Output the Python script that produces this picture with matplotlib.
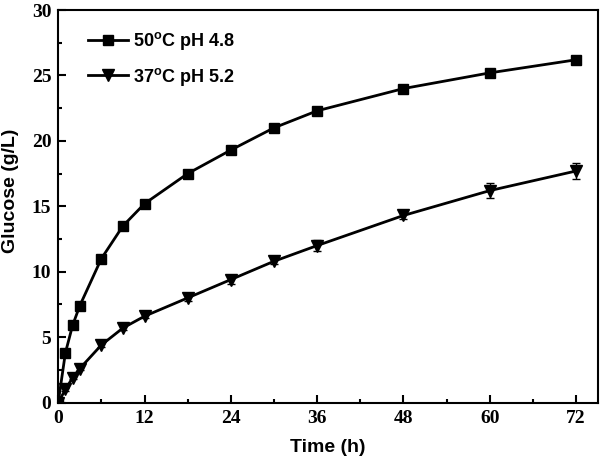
import numpy as np
import matplotlib.pyplot as plt
from matplotlib.ticker import MultipleLocator

# Data
t = [0, 1, 2, 3, 6, 9, 12, 18, 24, 30, 36, 48, 60, 72]
glc50 = [0, 3.8, 5.9, 7.4, 11.0, 13.5, 15.2, 17.5, 19.3, 21.0, 22.3, 24.0, 25.2, 26.2]
err50 = [0, 0.05, 0.05, 0.05, 0.1, 0.1, 0.1, 0.1, 0.1, 0.1, 0.1, 0.1, 0.1, 0.1]
glc37 = [0, 1.0, 1.9, 2.6, 4.4, 5.7, 6.6, 8.0, 9.4, 10.8, 12.0, 14.3, 16.2, 17.7]
err37 = [0, 0.1, 0.1, 0.1, 0.15, 0.15, 0.15, 0.2, 0.35, 0.2, 0.4, 0.3, 0.55, 0.6]

fig = plt.figure(figsize=(6, 4.58), dpi=100)
ax = fig.add_axes([0.097, 0.121, 0.899, 0.857])

ax.errorbar(t, glc50, yerr=err50, fmt="none", ecolor="k", capsize=3, elinewidth=1)
ax.errorbar(t, glc37, yerr=err37, fmt="none", ecolor="k", capsize=3, elinewidth=1)
ax.plot(t, glc50, color="k", marker="s", markersize=7, linewidth=2,
        label="50$^\\mathregular{o}$C pH 4.8")
ax.plot(t, glc37, color="k", marker="v", markersize=8, linewidth=2,
        label="37$^\\mathregular{o}$C pH 5.2")

ax.set_xlim(0, 75)
ax.set_ylim(0, 30)
ax.xaxis.set_major_locator(MultipleLocator(12))
ax.xaxis.set_minor_locator(MultipleLocator(6))
ax.yaxis.set_major_locator(MultipleLocator(5))
ax.yaxis.set_minor_locator(MultipleLocator(2.5))
ax.tick_params(which="both", direction="in", width=1.5)
ax.tick_params(which="major", length=6, pad=5)
ax.tick_params(which="minor", length=3)
for s in ax.spines.values():
    s.set_linewidth(1.5)
for lab in ax.get_xticklabels() + ax.get_yticklabels():
    lab.set_fontfamily("Liberation Serif")
    lab.set_fontweight("bold")
    lab.set_fontsize(14)

ax.set_xlabel("Time (h)", fontfamily="Liberation Sans", fontweight="bold", fontsize=14, labelpad=9)
ax.set_ylabel("Glucose (g/L)", fontfamily="Liberation Sans", fontweight="bold", fontsize=14)
ax.yaxis.set_label_coords(-0.072, 0.54)

ax.legend(loc="upper left", frameon=False, handlelength=2.2, handletextpad=0.3, labelspacing=0.75,
          prop={"family": "Liberation Sans", "weight": "bold", "size": 13},
          bbox_to_anchor=(0.025, 0.99))

fig.savefig("out.png", dpi=100)
